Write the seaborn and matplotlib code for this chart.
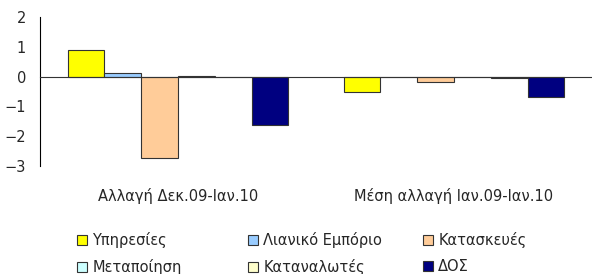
import numpy as np
import pandas as pd
import matplotlib
matplotlib.use("Agg")
import matplotlib.pyplot as plt
import seaborn as sns
from matplotlib.transforms import blended_transform_factory

# --- Data ---
periods = ["Αλλαγή Δεκ.09-Ιαν.10", "Μέση αλλαγή Ιαν.09-Ιαν.10"]
sectors = ["Υπηρεσίες", "Λιανικό Εμπόριο", "Κατασκευές",
           "Μεταποίηση", "Καταναλωτές", "ΔΟΣ"]
change_dec_jan = [0.9, 0.12, -2.72, 0.03, -0.02, -1.63]
change_avg_year = [-0.5, 0.0, -0.19, -0.01, -0.05, -0.7]
sector_colors = ["#FFFF00", "#99CCFF", "#FFCC99", "#CCFFFF", "#FFFFCC", "#000080"]

df = pd.DataFrame({
    "period": np.repeat(periods, len(sectors)),
    "sector": sectors * len(periods),
    "value": change_dec_jan + change_avg_year,
})

# --- Plot ---
sns.set_style("white")
plt.rcParams["font.family"] = ["DejaVu Sans"]
fs = 10.5

fig = plt.figure(figsize=(5.92, 2.74), dpi=100)
ax = fig.add_axes([40 / 592, 1 - 166 / 274, 552 / 592, 149 / 274])

sns.barplot(data=df, x="period", y="value", hue="sector", hue_order=sectors,
            palette=sector_colors, order=periods, width=0.8, saturation=1,
            edgecolor="#333333", linewidth=0.8, errorbar=None, ax=ax)

ax.set_ylim(-3, 2)
ax.set_xlim(-0.5, 1.5)
ax.set_yticks([-3, -2, -1, 0, 1, 2])
ax.tick_params(axis="y", direction="out", length=6, width=0.8,
               color="#808080", labelsize=fs, pad=4)

# horizontal axis sits on zero, ticks at the category boundaries
ax.spines["bottom"].set_position(("data", 0))
ax.spines["bottom"].set_color("#333333")
ax.spines["bottom"].set_linewidth(0.8)
ax.spines["left"].set_color("black")
ax.spines["left"].set_linewidth(0.8)
ax.spines["top"].set_visible(False)
ax.spines["right"].set_visible(False)
ax.set_xticks([0.5, 1.5])
ax.set_xticklabels([])
ax.tick_params(axis="x", direction="out", length=4, width=0.8, color="#808080")
ax.set_xlabel("")
ax.set_ylabel("")

trans = blended_transform_factory(ax.transData, ax.transAxes)
for i, p in enumerate(periods):
    ax.text(i, -0.2, p, transform=trans, ha="center", va="center", fontsize=fs)

# --- Legend: three fixed-width columns, two rows ---
handles, labels = ax.get_legend_handles_labels()
ax.get_legend().remove()
col_x = [77, 248, 423]
for c, x in enumerate(col_x):
    idx = [c, c + 3]
    leg = fig.legend([handles[i] for i in idx], [labels[i] for i in idx],
                     ncol=1, loc="upper left", bbox_to_anchor=(x / 592, 0.153),
                     frameon=False, fontsize=fs, handlelength=0.7, handleheight=0.7,
                     handletextpad=0.35, labelspacing=0.75,
                     borderaxespad=0, borderpad=0)

fig.savefig("out.png", dpi=100)
